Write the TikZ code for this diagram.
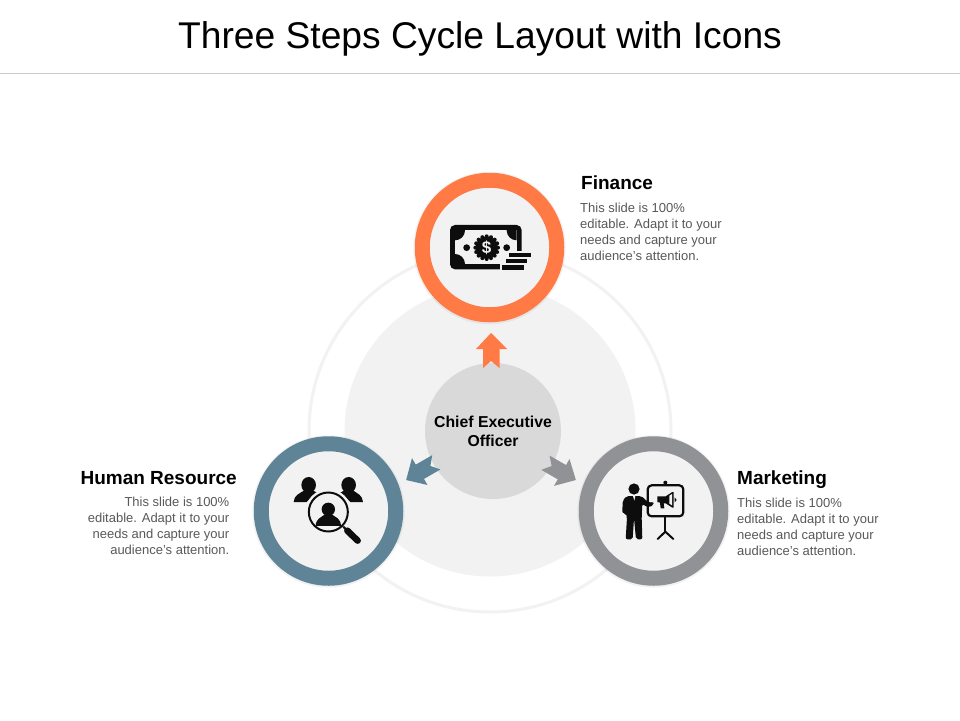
\documentclass[tikz,border=0pt]{standalone}
\usepackage{fontspec}
\setmainfont{Liberation Sans}
\definecolor{orng}{HTML}{FF7A45}
\definecolor{blu}{HTML}{5F8497}
\definecolor{gry}{HTML}{909296}
\definecolor{pale}{HTML}{F2F2F2}
\definecolor{cen}{HTML}{D9D9D9}
\definecolor{bodytxt}{HTML}{595959}
\definecolor{icon}{HTML}{0D0D0D}
\tikzset{
  ring/.style={circle,draw=#1,line width=15pt,fill=pale,minimum size=134.5pt,inner sep=0pt,outer sep=0pt},
  halo/.style={circle,fill=black,opacity=.05,minimum size=152.5pt,inner sep=0pt},
  heading/.style={font=\fontsize{19}{21}\selectfont\bfseries,text=black,inner sep=0pt},
  bodyL/.style={font=\fontsize{13}{16}\selectfont,text=bodytxt,align=left,anchor=north west,inner sep=0pt},
  bodyR/.style={font=\fontsize{13}{16}\selectfont,text=bodytxt,align=right,anchor=north east,inner sep=0pt},
  ico/.style={fill=icon,draw=none},
  icoline/.style={draw=icon,fill=none},
  iconzoom/.style={shift={#1},x=0.3333pt,y=-0.3333pt}
}
\newcommand{\blockarrow}{(491,333) -- (507,349) -- (499.5,349) -- (499.5,368) -- (491,361) -- (483,368) -- (483,349) -- (476,349) -- cycle}
\begin{document}
\begin{tikzpicture}[x=1pt,y=-1pt]
\useasboundingbox (0,0) rectangle (960,720);
\fill[white] (0,0) rectangle (960,720);
% title
\node[font=\fontsize{37.2}{40}\selectfont,text=black,inner sep=0pt] (title) at (480,38.5) {Three Steps Cycle Layout with Icons};
\coordinate (ruleL) at (0,73.5);
\coordinate (ruleR) at (960,73.5);
\draw[color=black!20,line width=1pt] (ruleL) -- (ruleR);
% backdrop
\node[circle,draw=pale,line width=3pt,minimum size=362pt,inner sep=0pt] (outer) at (490,431) {};
\node[circle,fill=pale,minimum size=291pt,inner sep=0pt] (inner) at (490,431) {};
\node[circle,fill=cen,minimum size=136pt,inner sep=0pt] (ceo) at (493,431) {};
\node[font=\fontsize{15.8}{19}\selectfont\bfseries,align=center,text=black,inner sep=0pt] (ceotext) at (493,431.5) {Chief Executive\\Officer};
% arrows
\fill[orng] \blockarrow;
\fill[blu,rotate around={120:(491,431)}] \blockarrow;
\fill[gry,rotate around={-120:(491,431)}] \blockarrow;
% rings
\node[halo] (h1) at (489.5,248) {};
\node[halo] (h2) at (328.5,511.5) {};
\node[halo] (h3) at (653.5,511.5) {};
\node[ring=orng] (finance) at (489.5,247.5) {};
\node[ring=blu] (hr) at (328.5,511) {};
\node[ring=gry] (marketing) at (653.5,511) {};
% money icon
\begin{scope}[iconzoom={(410,170)}]
  \fill[ico,rounded corners=5pt] (120,165) rectangle (335,298);
  \fill[pale] (135,181) rectangle (320,282);
  \begin{scope}
    \clip (135,181) rectangle (320,282);
    \fill[ico] (135,181) circle[radius=10pt];
    \fill[ico] (320,181) circle[radius=10pt];
    \fill[ico] (135,282) circle[radius=10pt];
  \end{scope}
  \fill[pale] (300,243) rectangle (372,306);
  \fill[pale] (270,265) rectangle (372,306);
  \foreach \a in {0,22.5,...,337.5} {\fill[ico] (230,233) ++(\a:34) circle[radius=2pt];}
  \fill[ico] (230,233) circle[radius=11.3pt];
  \fill[ico] (170,233) circle[radius=3.4pt];
  \fill[ico] (290,233) circle[radius=3.4pt];
  \node[font=\fontsize{17}{17}\selectfont\bfseries,text=pale,inner sep=0pt] (dollar) at (230,233) {\$};
  \fill[ico] (298,248) rectangle (362,262);
  \fill[ico] (288,267) rectangle (352,280);
  \fill[ico] (276,286) rectangle (342,300);
\end{scope}
% people icon
\begin{scope}[iconzoom={(250,430)}]
  \fill[ico] (176,165) ellipse[x radius=7.3pt,y radius=8pt];
  \fill[ico] (131,216) .. controls (132,195) and (150,190) .. (160,183) -- (192,183) .. controls (197,186) and (202,189) .. (207,191) -- (183,203) -- (170,216) -- cycle;
  \fill[ico] (296,165) ellipse[x radius=7.3pt,y radius=8pt];
  \fill[ico] (339,216) .. controls (338,195) and (320,190) .. (312,183) -- (280,183) .. controls (275,186) and (270,189) .. (265,191) -- (288,203) -- (301,216) -- cycle;
  \fill[pale] (235,246) circle[radius=23pt];
  \draw[icoline,line width=2pt] (235,246) circle[radius=19.5pt];
  \fill[ico] (235,238) circle[radius=6.7pt];
  \fill[ico] (197,288) .. controls (198,264) and (215,262) .. (222,255) -- (248,255) .. controls (256,262) and (272,264) .. (273,288) -- cycle;
  \draw[icoline,line width=2pt] (280,290) -- (295,305);
  \draw[icoline,line width=6.5pt,line cap=round] (292,302) -- (323,332);
\end{scope}
% presenter icon
\begin{scope}[iconzoom={(575,430)}]
  \fill[ico] (177,177) circle[radius=5.6pt];
  \fill[ico,rounded corners=2pt] (155,198) -- (199,198) -- (222,219) -- (236,215) -- (236,226) -- (218,232) -- (202,222) -- (200,262) -- (202,328) -- (183,328) -- (177,265) -- (173,328) -- (152,328) -- (156,262) -- (153,250) -- (142,250) -- (143,212) -- cycle;
  \fill[pale] (174,198) -- (181,198) -- (178,212) -- cycle;
  \draw[icoline,line width=2.2pt,rounded corners=4pt] (218,166) rectangle (325,259);
  \fill[ico] (271,158) circle[radius=2pt];
  \draw[icoline,line width=1.5pt] (271,158) -- (271,166);
  \draw[icoline,line width=2pt] (271,259) -- (271,305);
  \draw[icoline,line width=2pt,line cap=round] (248,327) -- (271,305) -- (295,327);
  \fill[ico] (247,199) -- (272,199) -- (292,186) -- (296,186) -- (296,233) -- (292,233) -- (272,220) -- (266,220) -- (268,235) -- (257,235) -- (255,218) -- (247,216) -- cycle;
  \fill[pale] (283,197) -- (291,192) -- (291,226) -- (283,221) -- cycle;
  \fill[ico] (299,202) -- (305,210) -- (299,217) -- cycle;
\end{scope}
% labels
\node[heading,anchor=west] (financeT) at (581,183) {Finance};
\node[bodyL] (financeB) at (580,203) {This slide is 100\%\\editable. Adapt it to your\\needs and capture your\\audience's attention.};
\node[heading,anchor=east] (hrT) at (237,478.5) {Human Resource};
\node[bodyR] (hrB) at (229.5,497) {This slide is 100\%\\editable. Adapt it to your\\needs and capture your\\audience's attention.};
\node[heading,anchor=west] (mktT) at (737,480) {Marketing};
\node[bodyL] (mktB) at (737,498) {This slide is 100\%\\editable. Adapt it to your\\needs and capture your\\audience's attention.};
\end{tikzpicture}
\end{document}
